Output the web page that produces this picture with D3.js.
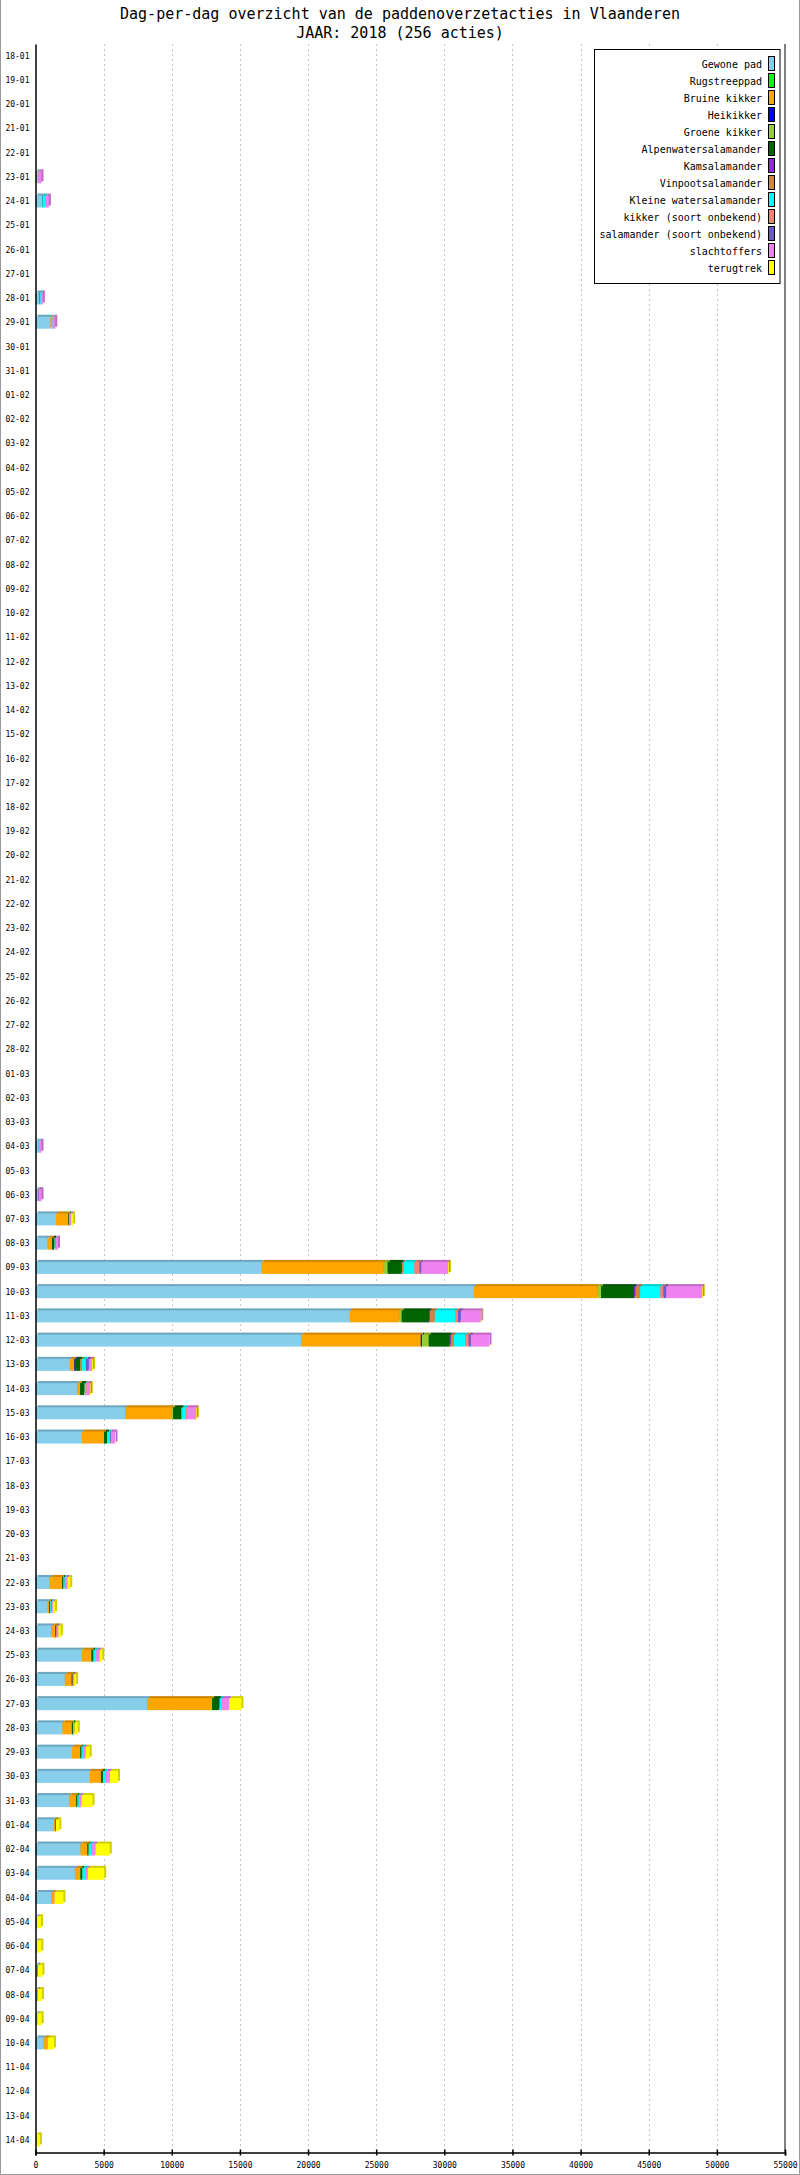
<!DOCTYPE html>
<html>
<head>
<meta charset="utf-8">
<script src="https://cdn.jsdelivr.net/npm/d3@7"></script>
<style>
  html, body { margin: 0; padding: 0; background: #fff; }
  svg { display: block; }
  text { font-family: "DejaVu Sans Mono", "Liberation Mono", monospace; }
</style>
</head>
<body>
<svg id="chart" width="800" height="2175"></svg>
<script>
// ---------- DATA ----------
const days = [
  "18-01","19-01","20-01","21-01","22-01","23-01","24-01","25-01","26-01","27-01","28-01","29-01","30-01","31-01",
  "01-02","02-02","03-02","04-02","05-02","06-02","07-02","08-02","09-02","10-02","11-02","12-02","13-02","14-02",
  "15-02","16-02","17-02","18-02","19-02","20-02","21-02","22-02","23-02","24-02","25-02","26-02","27-02","28-02",
  "01-03","02-03","03-03","04-03","05-03","06-03","07-03","08-03","09-03","10-03","11-03","12-03","13-03","14-03",
  "15-03","16-03","17-03","18-03","19-03","20-03","21-03","22-03","23-03","24-03","25-03","26-03","27-03","28-03",
  "29-03","30-03","31-03","01-04","02-04","03-04","04-04","05-04","06-04","07-04","08-04","09-04","10-04","11-04",
  "12-04","13-04","14-04"
];

const seriesNames = [
  "Gewone pad","Rugstreeppad","Bruine kikker","Heikikker","Groene kikker","Alpenwatersalamander",
  "Kamsalamander","Vinpootsalamander","Kleine watersalamander","kikker (soort onbekend)",
  "salamander (soort onbekend)","slachtoffers","terugtrek"
];
const seriesColors = [
  "#87CEEB","#00FF00","#FFA500","#0000FF","#9ACD32","#006400",
  "#8A2BE2","#CD853F","#00FFFF","#FA8072","#6A5ACD","#EE82EE","#FFFF00"
];

// one value per day (same order as `days`)
const gewonePad = [
  0,0,0,0,0,160,480,0,0,0,300,1100,0,0,
  0,0,0,0,0,0,0,0,0,0,0,0,0,0,
  0,0,0,0,0,0,0,0,0,0,0,0,0,0,
  0,0,0,150,0,150,1505,895,16600,32180,23075,19500,2530,3070,
  6570,3410,0,0,0,0,0,1050,900,1150,3400,2150,8180,1970,
  2680,4000,2480,1350,3300,2890,1150,100,80,150,100,100,600,0,
  0,0,20
];
const rugstreeppad = [
  0,0,0,0,0,0,0,0,0,0,0,0,0,0,
  0,0,0,0,0,0,0,0,0,0,0,0,0,0,
  0,0,0,0,0,0,0,0,0,0,0,0,0,0,
  0,0,0,0,0,0,0,0,0,0,0,0,0,0,
  0,0,0,0,0,0,0,0,0,0,0,0,0,0,
  0,0,0,0,0,0,0,0,0,0,0,0,0,0,
  0,0,0
];
const bruineKikker = [
  0,0,0,0,0,30,0,0,0,0,0,50,0,0,
  0,0,0,0,0,0,0,0,0,0,0,0,0,0,
  0,0,0,0,0,0,0,0,0,0,0,0,0,0,
  0,0,0,0,0,30,900,315,8960,9070,3625,8770,300,200,
  3430,1620,0,0,0,0,0,900,100,300,700,500,4780,700,
  600,800,500,100,500,400,150,0,30,0,80,0,300,0,
  0,0,0
];
const heikikker = [
  0,0,0,0,0,0,0,0,0,0,0,0,0,0,
  0,0,0,0,0,0,0,0,0,0,0,0,0,0,
  0,0,0,0,0,0,0,0,0,0,0,0,0,0,
  0,0,0,0,0,0,0,0,0,0,0,85,50,0,
  0,0,0,0,0,0,0,0,0,0,0,0,0,0,
  0,0,0,0,0,0,0,0,0,0,0,0,0,0,
  0,0,0
];
const groeneKikker = [
  0,0,0,0,0,0,0,0,0,0,0,0,0,0,
  0,0,0,0,0,0,0,0,0,0,0,0,0,0,
  0,0,0,0,0,0,0,0,0,0,0,0,0,0,
  0,0,0,0,0,0,0,0,280,250,170,500,0,0,
  95,0,0,0,0,0,0,0,0,0,0,0,0,0,
  0,0,0,0,0,0,0,0,0,0,0,50,0,0,
  0,0,0
];
const alpenwatersalamander = [
  0,0,0,0,0,0,40,0,0,0,30,0,0,0,
  0,0,0,0,0,0,0,0,0,0,0,0,0,0,
  0,0,0,0,0,0,0,0,0,0,0,0,0,0,
  0,0,0,0,0,0,60,150,1025,2430,2010,1535,390,290,
  585,220,0,0,0,0,0,100,80,80,150,80,500,80,
  100,150,100,50,100,150,0,0,0,30,0,0,0,0,
  0,0,0
];
const kamsalamander = [
  0,0,0,0,0,0,0,0,0,0,0,0,0,0,
  0,0,0,0,0,0,0,0,0,0,0,0,0,0,
  0,0,0,0,0,0,0,0,0,0,0,0,0,0,
  0,0,0,0,0,0,0,0,30,85,60,85,0,0,
  0,0,0,0,0,0,0,0,0,0,0,0,50,0,
  0,0,0,0,0,0,0,0,0,0,0,0,0,0,
  0,0,0
];
const vinpootsalamander = [
  0,0,0,0,0,0,0,0,0,0,0,0,0,0,
  0,0,0,0,0,0,0,0,0,0,0,0,0,0,
  0,0,0,0,0,0,0,0,0,0,0,0,0,0,
  0,0,0,0,0,0,0,0,110,355,360,225,150,50,
  75,0,0,0,0,0,0,0,0,0,0,0,0,0,
  0,0,0,0,0,0,0,0,0,0,0,0,0,0,
  0,0,0
];
const kleineWatersalamander = [
  0,0,0,0,0,0,200,0,0,0,60,100,0,0,
  0,0,0,0,0,0,0,0,0,0,0,0,0,0,
  0,0,0,0,0,0,0,0,0,0,0,0,0,0,
  0,0,0,80,0,0,0,50,790,1480,1485,835,245,100,
  295,195,0,0,0,0,0,100,100,0,200,0,100,0,
  100,200,100,0,200,200,0,0,0,0,0,0,0,0,
  0,0,0
];
const kikkerOnbekend = [
  0,0,0,0,0,0,0,0,0,0,0,0,0,0,
  0,0,0,0,0,0,0,0,0,0,0,0,0,0,
  0,0,0,0,0,0,0,0,0,0,0,0,0,0,
  0,0,0,0,0,0,0,40,390,230,220,250,50,50,
  70,50,0,0,0,0,0,0,0,0,0,0,0,0,
  0,0,0,0,0,0,0,0,0,0,0,0,0,0,
  0,0,0
];
const salamanderOnbekend = [
  0,0,0,0,0,0,0,0,0,0,0,0,0,0,
  0,0,0,0,0,0,0,0,0,0,0,0,0,0,
  0,0,0,0,0,0,0,0,0,0,0,0,0,0,
  0,0,0,0,0,60,0,0,135,200,200,165,195,0,
  0,50,0,0,0,0,0,0,0,0,0,0,0,0,
  0,0,0,0,0,0,0,0,0,0,0,0,0,0,
  0,0,0
];
const slachtoffers = [
  0,0,0,0,0,250,260,0,0,0,150,200,0,0,
  0,0,0,0,0,0,0,0,0,0,0,0,0,0,
  0,0,0,0,0,0,0,0,0,0,0,0,0,0,
  0,0,0,210,0,200,150,200,1950,2650,1475,1350,240,240,
  680,290,0,0,0,0,0,200,100,150,250,100,600,100,
  200,300,200,0,300,200,100,0,0,0,0,0,0,0,
  0,0,0
];
const terugtrek = [
  0,0,0,0,0,0,0,0,0,0,0,0,0,0,
  0,0,0,0,0,0,0,0,0,0,0,0,0,0,
  0,0,0,0,0,0,0,0,0,0,0,0,0,0,
  0,0,0,0,0,0,140,0,60,60,40,40,80,50,
  60,55,0,0,0,0,0,200,150,180,200,150,900,250,
  300,600,800,250,1050,1200,650,300,320,330,300,300,450,0,
  0,0,300
];

const seriesValues = [
  gewonePad, rugstreeppad, bruineKikker, heikikker, groeneKikker, alpenwatersalamander,
  kamsalamander, vinpootsalamander, kleineWatersalamander, kikkerOnbekend,
  salamanderOnbekend, slachtoffers, terugtrek
];

const xTickValues = [0,5000,10000,15000,20000,25000,30000,35000,40000,45000,50000,55000];
const xTickLabels = ["0","5000","10000","15000","20000","25000","30000","35000","40000","45000","50000","55000"];
const titleLines = ["Dag-per-dag overzicht van de paddenoverzetacties in Vlaanderen", "JAAR: 2018 (256 acties)"];

// ---------- CHART ----------
const W = 800, H = 2175;
const svg = d3.select("#chart");
const plotTop = 44, plotBottom = 2152.5, plotLeft = 35.5, plotRight = 785;

const x = d3.scaleLinear().domain([0, 55000]).range([plotLeft, plotRight]);
const y = d3.scaleBand().domain(days).range([plotTop, plotBottom]).padding(0);
const barH = 12, shadow = 2;

// outer frame (left, bottom, right)
svg.append("path")
  .attr("d", `M0.5,0 V${H - 0.5} H${W - 0.5} V0`)
  .attr("fill", "none").attr("stroke", "#999").attr("stroke-width", 1);

// title
svg.selectAll("text.title").data(titleLines).enter().append("text")
  .attr("class", "title")
  .attr("x", 400).attr("y", (d, i) => 19 + i * 18.5)
  .attr("text-anchor", "middle")
  .attr("font-size", "15px")
  .attr("fill", "#000")
  .text(d => d);

// grid
svg.append("g").selectAll("line").data(xTickValues.filter(v => v > 0 && v < 55000)).enter()
  .append("line")
  .attr("x1", d => Math.round(x(d)) + 0.5).attr("x2", d => Math.round(x(d)) + 0.5)
  .attr("y1", plotTop).attr("y2", plotBottom)
  .attr("stroke", "#c4c4c4").attr("stroke-width", 1).attr("stroke-dasharray", "2,3");

// right frame line
svg.append("line")
  .attr("x1", plotRight).attr("x2", plotRight)
  .attr("y1", plotTop).attr("y2", plotBottom)
  .attr("stroke", "#000").attr("stroke-width", 1);

// stacked data
const rows = days.map((d, i) => {
  const o = { day: d };
  seriesNames.forEach((s, k) => { o[s] = seriesValues[k][i]; });
  return o;
});
const stacked = d3.stack().keys(seriesNames)(rows);

const colorOf = d3.scaleOrdinal().domain(seriesNames).range(seriesColors);
const darkOf = name => d3.color(colorOf(name)).darker(0.6).formatHex();

const segs = [];
stacked.forEach(layer => {
  layer.forEach(p => {
    if (p[1] - p[0] > 0) segs.push({ key: layer.key, day: p.data.day, x0: p[0], x1: p[1] });
  });
});

const cy = d => y(d) + y.bandwidth() / 2;

// shadows first
svg.append("g").selectAll("rect").data(segs).enter().append("rect")
  .attr("x", d => x(d.x0) + shadow)
  .attr("y", d => cy(d.day) - barH / 2 - shadow)
  .attr("width", d => Math.max(0, x(d.x1) - x(d.x0)))
  .attr("height", barH)
  .attr("fill", d => darkOf(d.key));

// main bars
svg.append("g").selectAll("rect").data(segs).enter().append("rect")
  .attr("x", d => x(d.x0))
  .attr("y", d => cy(d.day) - barH / 2)
  .attr("width", d => Math.max(0, x(d.x1) - x(d.x0)))
  .attr("height", barH)
  .attr("fill", d => colorOf(d.key));

// left axis
const gy = svg.append("g").attr("transform", `translate(${plotLeft},0)`)
  .call(d3.axisLeft(y).tickSize(0).tickPadding(6));
gy.select(".domain").attr("stroke", "#000").attr("stroke-width", 1.5);
gy.selectAll("text").attr("font-size", "8px").attr("font-family", "DejaVu Sans Mono").attr("fill", "#000");

// bottom axis
const gx = svg.append("g").attr("transform", `translate(0,${plotBottom})`)
  .call(d3.axisBottom(x).tickValues(xTickValues).tickFormat((d, i) => xTickLabels[i]).tickSizeOuter(0).tickSize(3));
gx.select(".domain").attr("stroke", "#000").attr("stroke-width", 1.5);
gx.selectAll(".tick line").attr("y1", -3).attr("y2", 3).attr("stroke", "#000").attr("stroke-width", 1.5);
gx.selectAll("text").attr("y", 10).attr("dy", "0.71em")
  .attr("font-size", "8px").attr("font-family", "DejaVu Sans Mono").attr("fill", "#000");

// legend
const lg = svg.append("g");
lg.append("rect").attr("x", 594.5).attr("y", 49.5).attr("width", 185.5).attr("height", 234)
  .attr("fill", "#fff").attr("stroke", "#000").attr("stroke-width", 1);
const li = lg.selectAll("g.item").data(seriesNames).enter().append("g").attr("class", "item");
li.append("rect")
  .attr("x", 768.5).attr("y", (d, i) => 56.5 + i * 17)
  .attr("width", 6).attr("height", 14)
  .attr("fill", d => colorOf(d)).attr("stroke", "#000").attr("stroke-width", 1);
li.append("text")
  .attr("x", 762).attr("y", (d, i) => 68 + i * 17)
  .attr("text-anchor", "end")
  .attr("font-size", "10px").attr("fill", "#000")
  .text(d => d);
</script>
</body>
</html>
